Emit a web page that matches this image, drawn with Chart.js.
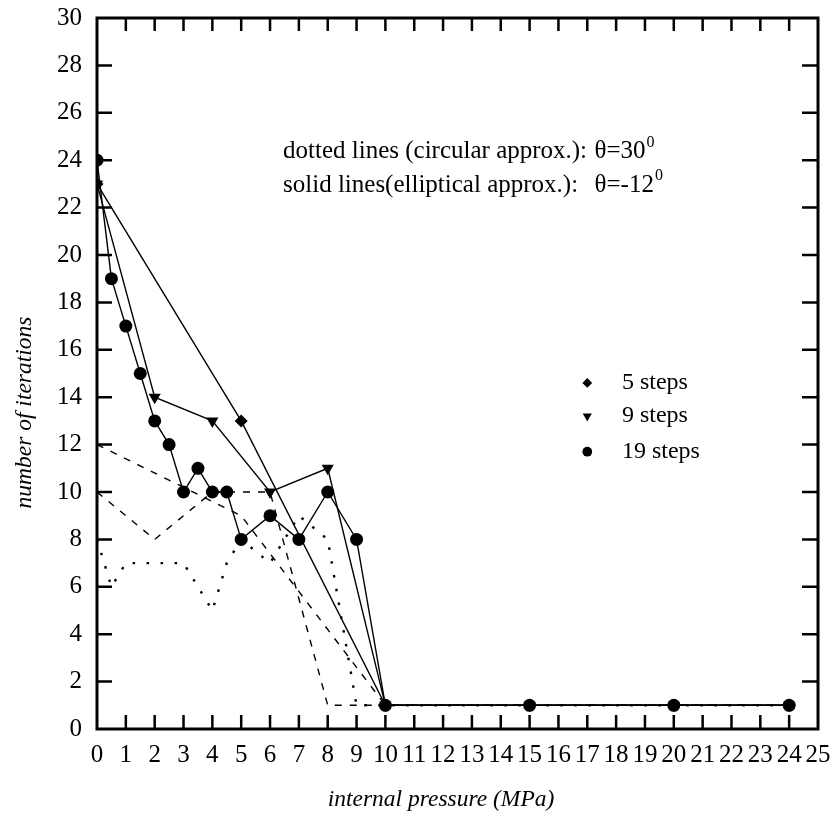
<!DOCTYPE html>
<html>
<head>
<meta charset="utf-8">
<script src="https://cdn.jsdelivr.net/npm/chart.js@4"></script>
<style>
  html, body { margin: 0; padding: 0; background: #fff; }
</style>
</head>
<body>
<canvas id="chart" width="835" height="820"></canvas>
<script>
// ── data ────────────────────────────────────────────
const xTicks = [0, 1, 2, 3, 4, 5, 6, 7, 8, 9, 10, 11, 12, 13, 14, 15, 16, 17, 18, 19, 20, 21, 22, 23, 24, 25];
const yTicks = [0, 2, 4, 6, 8, 10, 12, 14, 16, 18, 20, 22, 24, 26, 28, 30];

const pressure5  = [0, 5, 10, 15, 20, 24];
const pressure9  = [0, 2, 4, 6, 8, 10, 15, 20, 24];
const pressure19 = [0, 0.5, 1, 1.5, 2, 2.5, 3, 3.5, 4, 4.5, 5, 6, 7, 8, 9, 10, 15, 20, 24];

// solid lines (elliptical approx.)
const elliptic5  = [23, 13, 1, 1, 1, 1];
const elliptic9  = [23, 14, 13, 10, 11, 1, 1, 1, 1];
const elliptic19 = [24, 19, 17, 15, 13, 12, 10, 11, 10, 10, 8, 9, 8, 10, 8, 1, 1, 1, 1];

// dotted lines (circular approx.)
const circular5  = [12, 9, 1, 1, 1, 1];
const circular9  = [10, 8, 10, 10, 1, 1, 1, 1, 1];
const circular19 = [8, 6, 7, 7, 7, 7, 7, 6, 5, 7, 8, 7, 9, 8, 1, 1, 1, 1, 1];

const seriesLabels = ['5 steps', '9 steps', '19 steps'];

const FONT = '"Liberation Serif", "DejaVu Serif", serif';

function pts(xs, ys) {
  return xs.map((x, i) => ({ x: x, y: ys[i] }));
}

// ── frame, inward ticks, legend and notes ──────────────────────────
const framePlugin = {
  id: 'framePlugin',
  afterDatasetsDraw(chart) {
    const { ctx, chartArea: a, scales: { x, y } } = chart;
    ctx.save();
    ctx.strokeStyle = '#000';
    ctx.fillStyle = '#000';

    // box
    ctx.lineWidth = 3;
    ctx.strokeRect(a.left, a.top, a.right - a.left, a.bottom - a.top);

    // ticks pointing in
    ctx.lineWidth = 2.5;
    ctx.beginPath();
    xTicks.slice(1, -1).forEach(v => {
      const px = x.getPixelForValue(v);
      ctx.moveTo(px, a.bottom); ctx.lineTo(px, a.bottom - 14);
      ctx.moveTo(px, a.top);    ctx.lineTo(px, a.top + 13);
    });
    yTicks.slice(1, -1).forEach(v => {
      const py = y.getPixelForValue(v);
      ctx.moveTo(a.left, py);  ctx.lineTo(a.left + 15, py);
      ctx.moveTo(a.right, py); ctx.lineTo(a.right - 16, py);
    });
    ctx.stroke();

    // legend
    const legendY = [14.6, 13.2, 11.7];
    const solid = chart.data.datasets.slice(3);
    ctx.font = '24px ' + FONT;
    ctx.textBaseline = 'middle';
    ctx.textAlign = 'left';
    solid.forEach((ds, i) => {
      const mx = x.getPixelForValue(17);
      const my = y.getPixelForValue(legendY[i]);
      Chart.helpers.drawPoint(ctx, {
        pointStyle: ds.pointStyle,
        rotation: ds.pointRotation || 0,
        radius: ds.pointRadius * 0.75,
        borderWidth: 0
      }, mx, my);
      ctx.fillText(ds.label, x.getPixelForValue(18.2), my);
    });

    // notes
    const notes = [
      ['dotted lines (circular approx.):', 'θ=30', 24.35],
      ['solid lines(elliptical approx.):', 'θ=-12', 22.95]
    ];
    notes.forEach(([lead, theta, v]) => {
      const py = y.getPixelForValue(v);
      ctx.font = '25px ' + FONT;
      ctx.fillText(lead, x.getPixelForValue(6.45), py);
      const tx = x.getPixelForValue(17.25);
      ctx.fillText(theta, tx, py);
      const w = ctx.measureText(theta).width;
      ctx.font = '16px ' + FONT;
      ctx.fillText('0', tx + w + 1, py - 9);
    });

    // axis titles
    ctx.font = 'italic 23.5px ' + FONT;
    ctx.textAlign = 'center';
    ctx.fillText('internal pressure (MPa)', a.left + 344, a.bottom + 71);
    ctx.translate(a.left - 72, (a.top + a.bottom) / 2 + 39);
    ctx.rotate(-Math.PI / 2);
    ctx.fillText('number of iterations', 0, 0);
    ctx.restore();
  }
};

const dashed = { borderColor: '#000', borderWidth: 1.4, borderDash: [7, 8], pointRadius: 0, showLine: true, fill: false };
const dotted = { borderColor: '#000', borderWidth: 2.4, borderDash: [2.5, 11.5], pointRadius: 0, showLine: true, fill: false };
const solidLine = { borderColor: '#000', backgroundColor: '#000', borderWidth: 1.4, showLine: true, fill: false, pointBorderWidth: 0 };

new Chart(document.getElementById('chart'), {
  type: 'scatter',
  data: {
    datasets: [
      Object.assign({ label: 'circ 5',  data: pts(pressure5,  circular5)  }, dashed),
      Object.assign({ label: 'circ 9',  data: pts(pressure9,  circular9)  }, dashed),
      Object.assign({ label: 'circ 19', data: pts(pressure19, circular19) }, dotted),
      Object.assign({ label: seriesLabels[0], data: pts(pressure5, elliptic5),
        pointStyle: 'rectRot', pointRadius: 6.5 }, solidLine),
      Object.assign({ label: seriesLabels[1], data: pts(pressure9, elliptic9),
        pointStyle: 'triangle', pointRotation: 180, pointRadius: 7 }, solidLine),
      Object.assign({ label: seriesLabels[2], data: pts(pressure19, elliptic19),
        pointStyle: 'circle', pointRadius: 6.5 }, solidLine)
    ]
  },
  options: {
    responsive: false,
    animation: false,
    devicePixelRatio: 1,
    layout: { padding: { top: 18, right: 17, left: 0, bottom: 0 } },
    plugins: { legend: { display: false }, tooltip: { enabled: false } },
    scales: {
      x: {
        type: 'linear', min: 0, max: 25,
        afterBuildTicks: s => { s.ticks = xTicks.map(v => ({ value: v })); },
        afterFit: s => { s.height = 91; s.paddingLeft = 0; s.paddingRight = 0; },
        grid: { display: false, drawTicks: false },
        border: { display: false },
        ticks: { color: '#000', font: { family: FONT, size: 25 }, padding: 11, maxRotation: 0, autoSkip: false }
      },
      y: {
        type: 'linear', min: 0, max: 30,
        afterBuildTicks: s => { s.ticks = yTicks.map(v => ({ value: v })); },
        afterFit: s => { s.width = 97; s.paddingTop = 0; s.paddingBottom = 0; },
        grid: { display: false, drawTicks: false },
        border: { display: false },
        ticks: { color: '#000', font: { family: FONT, size: 25 }, padding: 15, autoSkip: false }
      }
    }
  },
  plugins: [framePlugin]
});
</script>
</body>
</html>
